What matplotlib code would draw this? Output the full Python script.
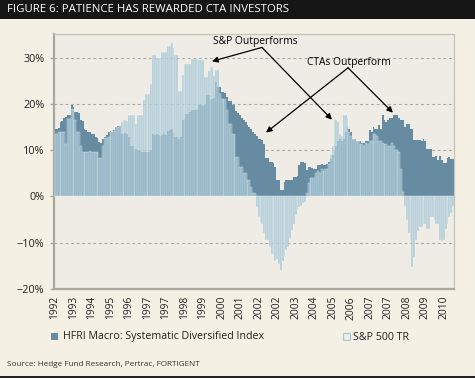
import matplotlib
matplotlib.use("Agg")
import matplotlib.pyplot as plt
from matplotlib.patches import Rectangle
import numpy as np

# rolling returns, one bar per month starting Dec 1992 (values in %)
hfri = [
    14.6, 14.6, 14.8, 16.0, 16.2, 17.0, 17.2, 17.5, 17.5, 19.7, 19.4, 18.3,
    18.3, 18.0, 16.5, 16.3, 14.6, 14.4, 13.9, 13.9, 13.5, 13.5, 12.8, 12.6,
    11.8, 11.6, 12.4, 12.8, 13.2, 14.0, 14.2, 14.0, 14.4, 15.0, 15.3, 15.3,
    13.5, 13.5, 13.8, 13.5, 12.8, 11.0, 11.0, 10.0, 10.2, 10.0, 9.8, 9.7,
    9.7, 9.5, 9.7, 9.7, 10.0, 13.5, 13.2, 13.5, 13.2, 13.0, 13.2, 13.4,
    13.2, 14.1, 14.3, 14.6, 14.0, 12.8, 12.8, 12.5, 12.8, 16.5, 16.8, 17.9,
    17.9, 18.3, 18.6, 18.6, 18.6, 18.8, 19.7, 19.7, 19.5, 19.7, 21.9, 21.9,
    21.0, 21.0, 21.2, 24.8, 23.7, 23.7, 22.6, 22.6, 22.4, 21.4, 20.7, 20.7,
    19.7, 19.7, 18.5, 18.0, 17.5, 17.0, 16.5, 16.0, 15.5, 15.0, 14.5, 14.0,
    13.5, 13.0, 12.5, 12.5, 12.3, 11.4, 8.2, 8.2, 7.4, 7.4, 7.2, 6.3,
    3.5, 3.5, 1.3, 1.3, 3.2, 3.5, 3.5, 3.6, 3.5, 4.3, 4.3, 4.5,
    6.8, 7.5, 7.5, 7.3, 5.7, 6.4, 6.4, 6.2, 6.0, 6.0, 6.8, 6.8,
    7.0, 6.8, 6.8, 7.0, 7.5, 8.0, 9.0, 10.0, 11.0, 12.0, 12.5, 12.0,
    12.5, 14.0, 15.0, 14.5, 14.0, 12.5, 12.5, 12.0, 12.0, 12.0, 11.5, 11.5,
    12.0, 12.0, 14.3, 14.0, 15.0, 14.6, 14.6, 15.5, 14.5, 17.5, 16.5, 16.0,
    16.5, 17.0, 17.0, 17.5, 17.5, 17.5, 17.0, 16.6, 16.6, 15.0, 15.7, 15.7,
    14.6, 14.6, 12.1, 12.1, 12.1, 12.1, 12.0, 12.5, 12.0, 10.3, 10.3, 10.3,
    8.6, 8.6, 8.8, 7.8, 8.8, 7.8, 7.3, 7.3, 8.2, 8.5, 8.0, 8.0,
]

sp500 = [
    13.5, 13.5, 13.9, 13.9, 13.9, 13.9, 11.4, 16.8, 16.8, 19.0, 19.0, 16.5,
    13.9, 13.9, 11.0, 9.7, 9.5, 9.7, 9.6, 9.8, 9.7, 9.7, 9.5, 9.7,
    8.2, 8.2, 10.8, 12.6, 12.6, 12.8, 14.0, 14.0, 14.2, 15.1, 15.1, 15.3,
    16.1, 16.5, 16.5, 16.3, 17.5, 17.5, 17.5, 17.5, 15.6, 17.5, 17.5, 17.5,
    20.8, 22.2, 22.2, 22.2, 24.4, 30.5, 30.5, 30.0, 30.0, 30.0, 31.3, 31.3,
    31.3, 32.4, 32.4, 33.2, 32.0, 30.5, 30.5, 22.7, 22.7, 26.2, 28.7, 28.7,
    28.7, 28.7, 29.8, 29.8, 29.8, 29.8, 29.5, 29.5, 29.5, 25.9, 25.9, 27.0,
    28.0, 28.0, 26.0, 27.4, 27.4, 22.2, 21.0, 21.0, 21.0, 18.6, 15.7, 15.7,
    13.5, 13.5, 8.6, 8.6, 6.4, 6.4, 5.0, 5.0, 3.6, 3.6, 2.1, 0.7,
    0.7, -2.2, -4.5, -5.5, -6.0, -8.0, -9.4, -9.5, -11.0, -12.4, -12.4, -14.0,
    -13.5, -14.5, -15.8, -14.0, -13.0, -11.5, -11.0, -9.0, -7.2, -6.0, -4.0, -3.0,
    -2.2, -2.0, -1.5, -1.2, 0.8, 3.0, 4.0, 4.0, 4.0, 5.0, 5.5, 5.0,
    6.0, 5.5, 6.0, 6.0, 7.0, 9.0, 11.0, 16.8, 16.5, 16.0, 13.5, 13.0,
    17.5, 17.5, 17.0, 14.0, 13.0, 12.5, 12.5, 12.0, 12.0, 11.4, 11.4, 11.0,
    11.5, 11.4, 12.0, 12.0, 13.5, 13.5, 13.0, 12.0, 12.0, 11.5, 11.4, 11.4,
    11.0, 11.0, 11.5, 11.0, 10.0, 10.0, 9.5, 6.0, 1.0, -2.0, -5.0, -8.0,
    -9.5, -15.2, -13.0, -9.5, -7.5, -6.6, -6.6, -6.0, -6.0, -7.0, -7.0, -4.5,
    -4.5, -5.0, -6.0, -6.0, -9.5, -9.7, -9.5, -7.0, -6.0, -4.5, -3.5, -2.0,
]

year_labels = ["1992", "1993", "1994", "1995", "1996", "1997", "1997", "1998",
               "1999", "2000", "2001", "2002", "2002", "2003", "2004", "2005",
               "2006", "2007", "2007", "2008", "2009", "2010"]
label_step = 10

series_names = ["HFRI Macro: Systematic Diversified Index", "S&P 500 TR"]

DARK = "#678ba0"
LIGHT = "#92bace"
FIG_BG = "#f4f0e4"
AX_BG = "#eeece4"
TXT = "#222222"

plt.rcParams['font.family'] = ['Open Sans', 'DejaVu Sans']

W, H = 475, 378
fig = plt.figure(figsize=(W / 100, H / 100), dpi=100, facecolor=FIG_BG)


def px_box(x0, y0, x1, y1):
    return [x0 / W, 1 - y1 / H, (x1 - x0) / W, (y1 - y0) / H]


# black title band
fig.patches.append(Rectangle((0, 1 - 19 / H), 1, 19 / H, transform=fig.transFigure,
                             facecolor="#161616", edgecolor="none", zorder=0))
fig.text(7 / W, 1 - 10 / H, "FIGURE 6: PATIENCE HAS REWARDED CTA INVESTORS",
         color="white", fontsize=8.2, va="center", ha="left")
# bottom dark line
fig.patches.append(Rectangle((0, 0), 1, 2 / H, transform=fig.transFigure,
                             facecolor="#222222", edgecolor="none", zorder=0))

ax = fig.add_axes(px_box(54, 34, 454, 289))
ax.set_facecolor(AX_BG)

x = np.arange(len(hfri))
ax.bar(x, hfri, width=1.0, color=DARK, edgecolor="none", zorder=2)
ax.bar(x, sp500, width=1.0, color=LIGHT, alpha=0.65, edgecolor="#f4f8f9",
       linewidth=0.35, zorder=3)

ax.set_xlim(-0.5, len(hfri) - 0.5)
ax.set_ylim(-20, 35.1)
ax.set_yticks([-20, -10, 0, 10, 20, 30])
ax.set_yticklabels(["\u221220%", "\u221210%", "0%", "10%", "20%", "30%"])
for v in [-10, 10, 20, 30]:
    ax.axhline(v, color="#a9a8a0", lw=0.8, ls=(0, (2.5, 2.5)), zorder=1)

ticks = np.arange(len(year_labels)) * label_step
ax.set_xticks(ticks)
ax.set_xticklabels(year_labels, rotation=90)
ax.tick_params(axis="x", length=0, pad=5, labelsize=7.4, colors=TXT)
ax.tick_params(axis="y", length=3, width=1, color="#a9a8a0", pad=4,
               labelsize=7.8)
for lab in ax.get_yticklabels():
    lab.set_color(TXT)

for s in ["left", "bottom"]:
    ax.spines[s].set_color("#a9a8a0")
    ax.spines[s].set_linewidth(1.6)
for s in ["top", "right"]:
    ax.spines[s].set_color("#c4c2b9")
    ax.spines[s].set_linewidth(0.9)

# annotations
arrow = dict(arrowstyle="-|>", color="black", lw=0.9, mutation_scale=8.5,
             shrinkA=0, shrinkB=0)
ax.text(108, 33.4, "S&P Outperforms", ha="center", va="center",
        fontsize=7.4, color="black", zorder=5)
ax.annotate("", xy=(84.8, 29.2), xytext=(111.8, 32.2), arrowprops=arrow, zorder=5)
ax.annotate("", xy=(149.6, 16.6), xytext=(111.8, 32.2), arrowprops=arrow, zorder=5)
ax.text(158.5, 28.9, "CTAs Outperform", ha="center", va="center",
        fontsize=7.4, color="black", zorder=5)
ax.annotate("", xy=(114, 13.8), xytext=(158.3, 27.8), arrowprops=arrow, zorder=5)
ax.annotate("", xy=(182.5, 18.1), xytext=(158.3, 27.8), arrowprops=arrow, zorder=5)

# legend
fig.patches.append(Rectangle((51 / W, 1 - 340 / H), 7 / W, 7 / H, transform=fig.transFigure,
                             facecolor=DARK, edgecolor="none"))
fig.text(63 / W, 1 - 337 / H, series_names[0], fontsize=7.7, color=TXT,
         va="center", ha="left")
fig.patches.append(Rectangle((343 / W, 1 - 340 / H), 7 / W, 7 / H, transform=fig.transFigure,
                             facecolor="#e6eeee", edgecolor="#a9c5cf", lw=0.8))
fig.text(353 / W, 1 - 337 / H, series_names[1], fontsize=7.7, color=TXT,
         va="center", ha="left")

fig.text(7 / W, 1 - 365 / H, "Source: Hedge Fund Research, Pertrac, FORTIGENT",
         fontsize=5.9, color="#333333", va="center", ha="left")

fig.savefig("out.png", dpi=100, facecolor=FIG_BG)
